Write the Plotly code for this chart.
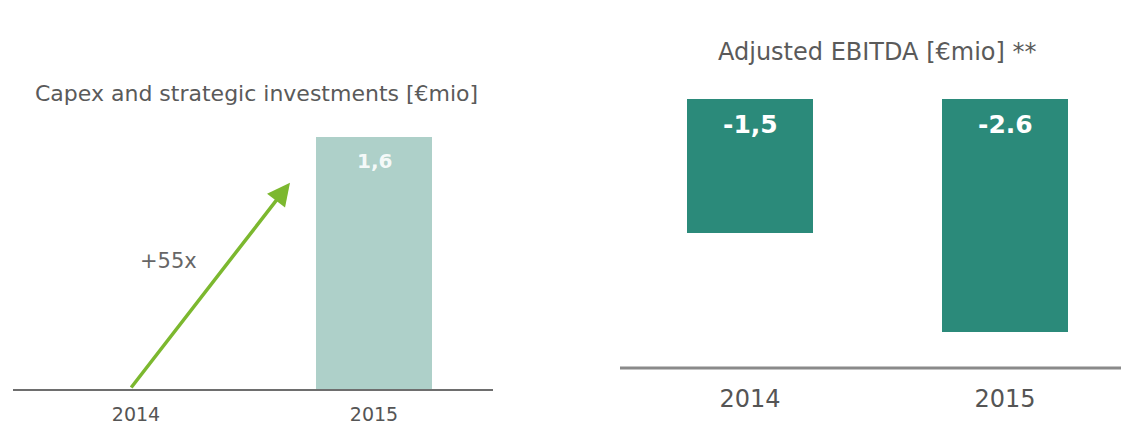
import plotly.graph_objects as go

# Data
years = ["2014", "2015"]
capex = [None, 1.6]            # €mio, capex and strategic investments
capex_labels = ["", "1,6"]
ebitda = [-1.5, -2.6]          # €mio, adjusted EBITDA
ebitda_labels = ["-1,5", "-2.6"]
growth_label = "+55x"

FONT = "DejaVu Sans"
W, H = 1121, 441


def px_x(p):
    return p / W


def px_y(p):
    return (H - p) / H


fig = go.Figure()

fig.add_trace(go.Bar(
    x=years, y=capex, xaxis="x", yaxis="y",
    width=0.487,
    marker=dict(color="#aed0c9", line=dict(width=0)),
    showlegend=False, hoverinfo="skip",
))

fig.add_trace(go.Bar(
    x=years, y=ebitda, xaxis="x2", yaxis="y2",
    width=0.494,
    marker=dict(color="#2b8a7a", line=dict(width=0)),
    showlegend=False, hoverinfo="skip",
))

axis_common = dict(showgrid=False, zeroline=False, ticks="", fixedrange=True)

fig.update_layout(
    width=W, height=H,
    margin=dict(l=0, r=0, t=0, b=0),
    paper_bgcolor="white", plot_bgcolor="white",
    font=dict(family=FONT, color="#555555"),
    xaxis=dict(
        **axis_common, domain=[px_x(13), px_x(493)], anchor="y",
        type="category", range=[-0.5168, 1.5],
        showline=True, linecolor="#6e6e6e", linewidth=2,
        tickfont=dict(family=FONT, size=19, color="#555555"),
        ticklabelstandoff=7,
    ),
    yaxis=dict(
        **axis_common, domain=[px_y(389), px_y(137)], anchor="x",
        range=[0, 1.6], showticklabels=False, showline=False,
    ),
    xaxis2=dict(
        **axis_common, domain=[px_x(620), 1.0], anchor="y2",
        type="category", range=[-0.5098, 1.4549],
        showline=False,
        tickfont=dict(family=FONT, size=24, color="#555555"),
        ticklabelstandoff=14,
    ),
    yaxis2=dict(
        **axis_common, domain=[px_y(368), px_y(99)], anchor="x2",
        range=[-3.006, 0], showticklabels=False, showline=False,
    ),
    bargap=0,
)

# Baseline under the EBITDA bars
fig.add_shape(
    type="line", xref="x2 domain", yref="y2 domain",
    x0=0, x1=1, y0=0, y1=0,
    line=dict(color="#8a8a8a", width=3),
)

# Value labels at the top edge of each bar (category index positions)
for i, (v, lab) in enumerate(zip(capex, capex_labels)):
    if v is None or not lab:
        continue
    fig.add_annotation(
        xref="x", yref="y", x=i, y=v, text=lab, showarrow=False,
        yanchor="top", yshift=-10,
        font=dict(family=FONT, size=20, color="rgba(255,255,255,0.9)", weight="bold"),
    )
for i, lab in enumerate(ebitda_labels):
    fig.add_annotation(
        xref="x2", yref="y2", x=i, y=0, text=lab, showarrow=False,
        yanchor="top", yshift=-9,
        font=dict(family=FONT, size=25, color="white", weight="bold"),
    )

# Panel titles
fig.add_annotation(
    text="Capex and strategic investments [€mio]",
    xref="paper", yref="paper", x=px_x(256), y=px_y(93),
    xanchor="center", yanchor="middle",
    showarrow=False, font=dict(family=FONT, size=22, color="#5a5a5a"),
)
fig.add_annotation(
    text="Adjusted EBITDA [€mio] **",
    xref="paper", yref="paper", x=px_x(877), y=px_y(52),
    xanchor="center", yanchor="middle",
    showarrow=False, font=dict(family=FONT, size=24, color="#5a5a5a"),
)

# Growth arrow from 2014 towards the 2015 bar
fig.add_annotation(
    xref="x", yref="y", axref="x", ayref="y",
    x=0.647, y=1.31, ax=-0.025, ay=0.0,
    text="", showarrow=True,
    arrowhead=2, arrowsize=1.3, arrowwidth=3.5, arrowcolor="#7cb82f",
)
fig.add_annotation(
    text=growth_label, xref="paper", yref="paper",
    x=px_x(168), y=px_y(261), xanchor="center", yanchor="middle",
    showarrow=False,
    font=dict(family=FONT, size=21, color="#666666"),
)

fig.write_html("out.html")
